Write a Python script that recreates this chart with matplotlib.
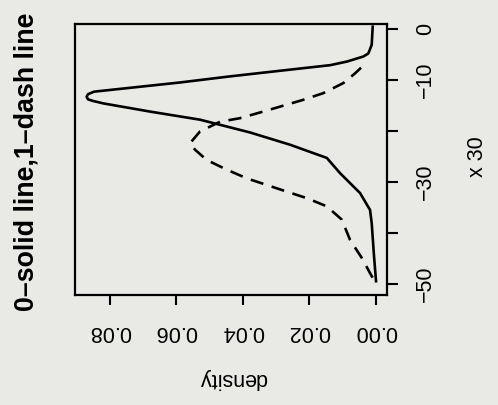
import numpy as np
import matplotlib
matplotlib.use('Agg')
import matplotlib.pyplot as plt

plt.rcParams['font.family'] = ['Liberation Sans', 'DejaVu Sans']

# values: x value (vertical) and density (horizontal)
solid_x = [0.45, -3.1, -4.8, -5.4, -6.4, -7.1, -8.2, -9.3, -10.5, -12.0,
           -12.3, -12.8, -13.3, -13.8, -14.1, -14.6, -16.2, -17.8, -20.3,
           -22.7, -25.3, -28.3, -32.2, -35.5, -38.1, -44.6, -49.5]
solid_d = [0.0010, 0.0013, 0.0023, 0.0038, 0.0088, 0.0138, 0.0289, 0.0439,
           0.0590, 0.0805, 0.0848, 0.0866, 0.0870, 0.0866, 0.0852, 0.0820,
           0.0680, 0.0529, 0.0379, 0.0259, 0.0148, 0.0108, 0.0048, 0.0018,
           0.0013, 0.0006, 0.0]

dash_x = [-7.6, -8.7, -10.6, -12.6, -13.9, -16.2, -17.5, -18.2, -20.1, -22.4,
          -23.7, -25.7, -27.6, -29.3, -30.6, -31.9, -33.2, -34.8, -37.4,
          -41.4, -44.9, -48.5, -49.5]
dash_d = [0.0045, 0.0063, 0.0098, 0.0159, 0.0219, 0.0339, 0.0409, 0.0469,
          0.0529, 0.0559, 0.0544, 0.0509, 0.0449, 0.0389, 0.0329, 0.0269,
          0.0208, 0.0148, 0.0103, 0.0078, 0.0043, 0.0013, 0.0003]

d_ticks = [0.00, 0.02, 0.04, 0.06, 0.08]
d_labels = ['0.00', '0.02', '0.04', '0.06', '0.08']
x_ticks = [0, -10, -20, -30, -40, -50]
x_labels = ['0', '\u221210', '', '\u221230', '', '\u221250']

bg = '#e9e9e6'
fig = plt.figure(figsize=(4.98, 4.05), dpi=100, facecolor=bg)
ax = fig.add_axes([75 / 498, 110 / 405, 312 / 498, 271 / 405])
ax.set_facecolor(bg)

ax.plot(solid_d, solid_x, color='black', lw=1.9)
ax.plot(dash_d, dash_x, color='black', lw=1.9, linestyle=(0, (5, 3.3)))

ax.set_xlim(0.0905, -0.0033)
ax.set_ylim(-52.2, 0.98)

for s in ax.spines.values():
    s.set_linewidth(1.6)

ax.set_xticks(d_ticks)
ax.set_xticklabels(d_labels, rotation=180, fontsize=15.5)
ax.tick_params(axis='x', length=7.5, width=1.5, pad=11)

ax.yaxis.tick_right()
ax.set_yticks(x_ticks)
ax.set_yticklabels(x_labels, rotation=90, fontsize=15.5, va='center')
ax.tick_params(axis='y', length=8, width=1.5, pad=12)

fig.text(233 / 498, 1 - 379 / 405, 'density', rotation=180, fontsize=15.5,
         ha='center', va='center')
fig.text(477 / 498, 1 - 157 / 405, 'x 30', rotation=90, fontsize=15.5,
         ha='center', va='center')
fig.text(27 / 498, 1 - 162 / 405, '0\u2013solid line,1\u2013dash line',
         rotation=90, fontsize=19.3, fontweight='bold', ha='center', va='center')

fig.savefig('out.png', dpi=100, facecolor=bg)
